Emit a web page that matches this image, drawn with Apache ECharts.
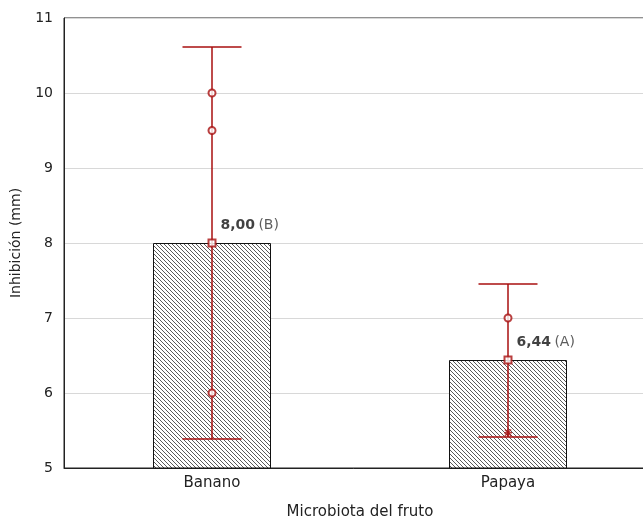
<!DOCTYPE html>
<html lang="es">
<head>
  <meta charset="UTF-8">
  <title>Inhibición</title>
  <script src="https://cdn.jsdelivr.net/npm/echarts@6/dist/echarts.min.js"></script>
</head>
<body style="margin:0">
  <div id="app" style="width: 643px; height: 518px;"></div>
  <script>
    var categories = ['Banano', 'Papaya']
    var means = [8.00, 6.44]
    var errHigh = [10.61, 7.45]
    var errLow = [5.39, 5.41]
    var letters = ['B', 'A']
    var circlePts = [[0, 10], [0, 9.5], [0, 6], [1, 7]]
    var starPts = [[1, 5.47]]
    var red = '#a80f0f'

    // hatch pattern for the bars
    var hatch = document.createElement('canvas')
    hatch.width = 4
    hatch.height = 4
    var hc = hatch.getContext('2d')
    hc.fillStyle = '#fff'
    hc.fillRect(0, 0, 4, 4)
    hc.strokeStyle = '#5a5a5a'
    hc.lineWidth = 1
    hc.beginPath()
    hc.moveTo(-1, -1); hc.lineTo(5, 5)
    hc.moveTo(-1, 3); hc.lineTo(1, 5)
    hc.moveTo(3, -1); hc.lineTo(5, 1)
    hc.stroke()

    var mCharts = echarts.init(document.querySelector('#app'))
    var font = 'DejaVu Sans, sans-serif'
    var option = {
      animation: false,
      grid: {
        left: 64, top: 18, width: 592, bottom: 50,
        outerBoundsMode: 'none', containLabel: false,
        show: true, borderColor: '#222', borderWidth: 1
      },
      xAxis: {
        type: 'category',
        data: categories,
        name: 'Microbiota del fruto',
        nameLocation: 'middle',
        nameGap: 37,
        nameTextStyle: { fontFamily: font, fontSize: 15, color: '#222' },
        axisLine: { lineStyle: { color: '#222' } },
        axisTick: { show: false },
        axisLabel: { fontFamily: font, fontSize: 15, color: '#222', margin: 8 }
      },
      yAxis: {
        type: 'value',
        min: 5,
        max: 11,
        interval: 1,
        name: 'Inhibición (mm)',
        nameLocation: 'middle',
        nameGap: 41,
        nameTextStyle: { fontFamily: font, fontSize: 14, color: '#222' },
        axisLine: { show: true, lineStyle: { color: '#222' } },
        axisTick: { show: false },
        axisLabel: { fontFamily: font, fontSize: 14, color: '#222', margin: 11 },
        splitLine: { lineStyle: { color: '#d8d8d8' } }
      },
      series: [
        {
          type: 'bar',
          data: means,
          barWidth: 118,
          itemStyle: { color: { image: hatch, repeat: 'repeat' }, borderColor: '#111', borderWidth: 1 }
        },
        {
          type: 'custom',
          data: categories.map(function (c, i) { return [i, errLow[i], errHigh[i]] }),
          z: 5,
          renderItem: function (params, api) {
            var lo = api.coord([api.value(0), api.value(1)])
            var hi = api.coord([api.value(0), api.value(2)])
            var x = Math.round(lo[0]), yl = Math.round(lo[1]), yh = Math.round(hi[1])
            var half = 29.5
            var st = { stroke: red, lineWidth: 1.5 }
            return {
              type: 'group',
              children: [
                { type: 'line', shape: { x1: x, y1: yh, x2: x, y2: yl }, style: st },
                { type: 'line', shape: { x1: x - half, y1: yh, x2: x + half, y2: yh }, style: st },
                { type: 'line', shape: { x1: x - half, y1: yl, x2: x + half, y2: yl }, style: st }
              ]
            }
          }
        },
        {
          type: 'scatter',
          data: circlePts,
          symbol: 'emptyCircle',
          symbolSize: 7,
          z: 6,
          itemStyle: { color: red, borderColor: red, borderWidth: 1.5 }
        },
        {
          type: 'scatter',
          data: starPts,
          symbol: 'path://M0,5 L10,5 M5,0 L5,10 M1,1 L9,9 M9,1 L1,9',
          symbolSize: 8,
          z: 6,
          itemStyle: { color: 'none', borderColor: red, borderWidth: 1.3 }
        },
        {
          type: 'scatter',
          data: means.map(function (m, i) { return [i, m] }),
          symbol: 'emptyRect',
          symbolSize: 7,
          z: 6,
          itemStyle: { color: red, borderColor: red, borderWidth: 1.5 },
          label: {
            show: true,
            position: 'right',
            offset: [-1, -18],
            formatter: function (p) {
              return '{b|' + means[p.dataIndex].toFixed(2).replace('.', ',') + '} {n|(' + letters[p.dataIndex] + ')}'
            },
            rich: {
              b: { fontFamily: font, fontSize: 14, fontWeight: 'bold', color: '#111' },
              n: { fontFamily: font, fontSize: 14, color: '#333' }
            }
          }
        }
      ]
    }
    mCharts.setOption(option)
  </script>
</body>
</html>
